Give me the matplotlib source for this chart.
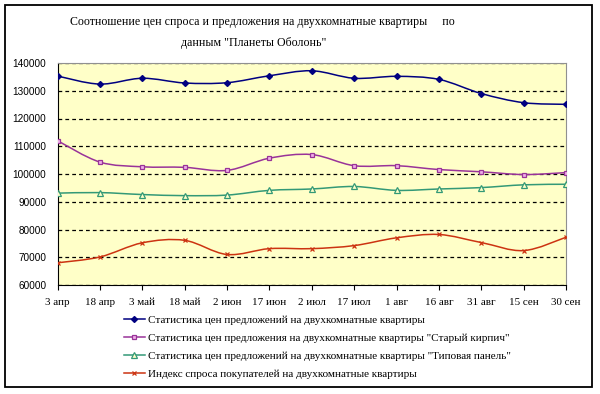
import matplotlib
matplotlib.use('Agg')
import matplotlib.pyplot as plt
import numpy as np
from matplotlib.path import Path
from matplotlib.patches import PathPatch, Rectangle
from matplotlib.lines import Line2D

# Даты (подписи оси X)
dates = ['3 апр', '18 апр', '3 май', '18 май', '2 июн', '17 июн', '2 июл',
         '17 июл', '1 авг', '16 авг', '31 авг', '15 сен', '30 сен']

# Ряды данных
offer_all = [135300, 132400, 134500, 132800, 132900, 135400, 137200,
             134500, 135200, 134100, 129000, 125700, 125100]
offer_brick = [112000, 104300, 102600, 102400, 101300, 105700, 107000,
               103000, 103000, 101600, 100800, 99800, 100500]
offer_panel = [93100, 93300, 92600, 92200, 92400, 94100, 94600,
               95500, 94100, 94600, 95100, 96100, 96300]
demand_index = [68000, 70100, 75200, 76100, 71000, 73100, 73100,
                74200, 77000, 78200, 75300, 72400, 77200]

labels = [
    'Статистика цен предложений на двухкомнатные квартиры',
    'Статистика цен предложения на двухкомнатные квартиры "Старый кирпич"',
    'Статистика цен предложений на двухкомнатные квартиры "Типовая панель"',
    'Индекс спроса покупателей на двухкомнатные квартиры',
]

serif = ['Liberation Serif', 'DejaVu Serif']
sans = ['Liberation Sans', 'DejaVu Sans']


def smooth_path(x, y):
    """Сглаженная линия (как в Excel) через кривые Безье по точкам."""
    x = np.asarray(x, float)
    y = np.asarray(y, float)
    verts = [(x[0], y[0])]
    codes = [Path.MOVETO]
    n = len(x)
    for i in range(n - 1):
        p0 = (x[i - 1], y[i - 1]) if i > 0 else (x[i], y[i])
        p1 = (x[i], y[i])
        p2 = (x[i + 1], y[i + 1])
        p3 = (x[i + 2], y[i + 2]) if i + 2 < n else p2
        c1 = (p1[0] + (p2[0] - p0[0]) / 6, p1[1] + (p2[1] - p0[1]) / 6)
        c2 = (p2[0] - (p3[0] - p1[0]) / 6, p2[1] - (p3[1] - p1[1]) / 6)
        verts += [c1, c2, p2]
        codes += [Path.CURVE4] * 3
    return Path(verts, codes)


fig = plt.figure(figsize=(6, 3.94), dpi=100)
ax = fig.add_axes([57.5 / 600, 1 - 285 / 394, (566 - 57.5) / 600, (285 - 63) / 394])
ax.set_facecolor('#FFFFC8')

idx = np.arange(len(dates))
series = [
    (offer_all, '#000080', dict(marker='D', ms=3, mfc='#000080', mec='#000080')),
    (offer_brick, '#993399', dict(marker='s', ms=3.3, mfc='#F0B0E8', mec='#993399', mew=0.9)),
    (offer_panel, '#339977', dict(marker='^', ms=3.8, mfc='#FFFFC8', mec='#339977', mew=0.9)),
    (demand_index, '#CC3311', dict(marker='x', ms=3.3, mec='#CC3311', mew=0.9)),
]

handles = []
for vals, col, mk in series:
    ax.add_patch(PathPatch(smooth_path(idx, vals), fill=False, edgecolor=col, lw=1.1, zorder=3))
    ax.plot(idx, vals, ls='none', zorder=4, **mk)
    handles.append(Line2D([], [], color=col, lw=1.1, **mk))

ax.set_xlim(0, len(dates) - 1)
ax.set_ylim(60000, 140000)
ax.set_yticks(np.arange(60000, 140001, 10000))
ax.yaxis.grid(True, ls=(0, (3, 2.5)), color='black', lw=0.9)
ax.set_axisbelow(True)

ax.set_xticks(idx)
ax.set_xticklabels(dates, fontfamily=serif, fontsize=7.9)
for t in ax.get_yticklabels():
    t.set_fontfamily(sans)
    t.set_fontsize(7.2)
ax.tick_params(axis='x', direction='out', length=3.5, pad=6, width=0.8)
ax.tick_params(axis='y', length=0, pad=8)

for s in ['top', 'right']:
    ax.spines[s].set_color('#909090')
for s in ['left', 'bottom']:
    ax.spines[s].set_color('black')

fig.text(262 / 600, 1 - 22 / 394,
         'Соотношение цен спроса и предложения на двухкомнатные квартиры     по',
         ha='center', va='center', fontfamily=serif, fontsize=8.6)
fig.text(254 / 600, 1 - 43 / 394, 'данным "Планеты Оболонь"',
         ha='center', va='center', fontfamily=serif, fontsize=8.6)

fig.legend(handles, labels, loc='upper left', bbox_to_anchor=(118 / 600, 1 - 310 / 394),
           frameon=False, prop={'family': serif, 'size': 8.0}, borderpad=0,
           handlelength=1.9, handletextpad=0.3, labelspacing=0.72)

# рамка вокруг диаграммы
fig.patches.append(Rectangle((5 / 600, 7 / 394), 587 / 600, 382 / 394,
                             transform=fig.transFigure, fill=False,
                             edgecolor='black', lw=1.3))

fig.savefig('out.png', dpi=100)
